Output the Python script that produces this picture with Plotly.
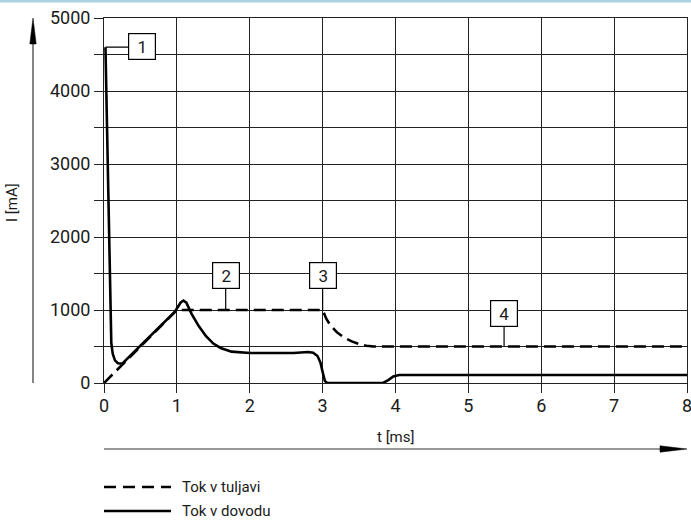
import plotly.graph_objects as go

# ---- data ----
t_coil = [0.0, 1.0, 3.0, 3.05, 3.1, 3.2, 3.3, 3.4, 3.5, 3.6, 3.7, 8.0]
i_coil = [0, 1000, 1000, 880, 800, 690, 620, 570, 535, 510, 500, 500]

t_feed = [0.02, 0.05, 0.08, 0.09, 0.1, 0.12, 0.15, 0.19, 0.25, 0.97, 1.0, 1.05, 1.09,
          1.13, 1.2, 1.3, 1.4, 1.5, 1.6, 1.75, 2.0, 2.3, 2.6, 2.8, 2.87, 2.93, 2.97,
          3.0, 3.03, 3.06, 3.83, 3.9, 3.97, 4.05, 8.0]
i_feed = [4600, 3000, 1500, 900, 550, 400, 310, 270, 265, 975, 1020, 1100, 1130,
          1100, 950, 780, 640, 540, 480, 430, 410, 405, 410, 425, 415, 370, 280,
          150, 30, 0, 0, 40, 90, 110, 110]

x_ticks = [0, 1, 2, 3, 4, 5, 6, 7, 8]
y_ticks = [0, 500, 1000, 1500, 2000, 2500, 3000, 3500, 4000, 4500, 5000]
y_tick_text = ["0", "", "1000", "", "2000", "", "3000", "", "4000", "", "5000"]

labels = ["1", "2", "3", "4"]
label_x = [0.52, 1.67, 3.0, 5.49]
label_y = [4616, 1470, 1470, 952]

legend_names = ["Tok v tuljavi", "Tok v dovodu"]

FONT = "Roboto"
TXT = "#1a1a1a"

fig = go.Figure()
fig.add_trace(go.Scatter(x=t_coil, y=i_coil, mode="lines", showlegend=False,
                         line=dict(color="black", width=2.6, dash="12px,6px")))
fig.add_trace(go.Scatter(x=t_feed, y=i_feed, mode="lines", showlegend=False,
                         line=dict(color="black", width=2.6)))

shapes = []
# leader lines
shapes.append(dict(type="line", xref="x", yref="y", x0=0.02, x1=label_x[0], y0=4600, y1=4600,
                   line=dict(color="black", width=1.2)))
shapes.append(dict(type="line", xref="x", yref="y", x0=label_x[1], x1=label_x[1], y0=1000, y1=label_y[1],
                   line=dict(color="black", width=1.2)))
shapes.append(dict(type="line", xref="x", yref="y", x0=label_x[2], x1=label_x[2], y0=1000, y1=label_y[2],
                   line=dict(color="black", width=1.2)))
shapes.append(dict(type="line", xref="x", yref="y", x0=label_x[3], x1=label_x[3], y0=500, y1=label_y[3],
                   line=dict(color="black", width=1.2)))

# y arrow
ax_x = (33 - 104) / 583
shapes.append(dict(type="line", xref="paper", yref="paper", x0=ax_x, x1=ax_x, y0=0.0, y1=0.96,
                   line=dict(color="#333", width=1.2)))
shapes.append(dict(type="path", xref="paper", yref="paper", xsizemode="pixel", ysizemode="pixel",
                   xanchor=ax_x, yanchor=1.0, path="M 0,0 L -3.2,-26 L 3.2,-26 Z",
                   fillcolor="black", line=dict(color="black", width=0.5)))
# x arrow
ay_y = (383 - 449) / 365
shapes.append(dict(type="line", xref="paper", yref="paper", x0=0.0, x1=0.96, y0=ay_y, y1=ay_y,
                   line=dict(color="#333", width=1.2)))
shapes.append(dict(type="path", xref="paper", yref="paper", xsizemode="pixel", ysizemode="pixel",
                   xanchor=1.0, yanchor=ay_y, path="M 0,0 L -27,3.2 L -27,-3.2 Z",
                   fillcolor="black", line=dict(color="black", width=0.5)))
# top light-blue rule
shapes.append(dict(type="line", xref="paper", yref="paper", x0=-104 / 583, x1=(691 - 104) / 583,
                   y0=(383 - 1) / 365, y1=(383 - 1) / 365, line=dict(color="#a9d2e3", width=3)))
# legend samples
lg_y = [(383 - 487) / 365, (383 - 511) / 365]
shapes.append(dict(type="line", xref="paper", yref="paper", x0=0.0, x1=(171 - 104) / 583,
                   y0=lg_y[0], y1=lg_y[0], line=dict(color="black", width=2.6, dash="12px,7px")))
shapes.append(dict(type="line", xref="paper", yref="paper", x0=0.0, x1=(171 - 104) / 583,
                   y0=lg_y[1], y1=lg_y[1], line=dict(color="black", width=2.6)))

annotations = []
for lab, lx, ly in zip(labels, label_x, label_y):
    annotations.append(dict(x=lx, y=ly, xref="x", yref="y", text=lab, showarrow=False,
                            font=dict(family=FONT, size=17, color=TXT),
                            bgcolor="white", bordercolor="black", borderwidth=1.2,
                            borderpad=0, width=26, height=25))
for name, yy in zip(legend_names, lg_y):
    annotations.append(dict(x=(180 - 104) / 583, y=yy, xref="paper", yref="paper", text=name,
                            showarrow=False, xanchor="left", yanchor="middle",
                            font=dict(family=FONT, size=15, color=TXT)))
annotations.append(dict(x=(12 - 104) / 583, y=(383 - 203) / 365, xref="paper", yref="paper",
                        text="I [mA]", textangle=-90, showarrow=False,
                        xanchor="center", yanchor="middle",
                        font=dict(family=FONT, size=15, color=TXT)))
annotations.append(dict(x=4, y=(383 - 437) / 365, xref="x", yref="paper", text="t [ms]",
                        showarrow=False, xanchor="center", yanchor="middle",
                        font=dict(family=FONT, size=15, color=TXT)))

fig.update_layout(
    width=691, height=520,
    margin=dict(l=104, r=4, t=18, b=137),
    paper_bgcolor="white", plot_bgcolor="white",
    shapes=shapes, annotations=annotations,
    font=dict(family=FONT, color=TXT),
)
fig.update_xaxes(range=[0, 8], tickvals=x_ticks, ticktext=[str(v) for v in x_ticks],
                 showgrid=True, gridcolor="#222", gridwidth=1, zeroline=False,
                 showline=True, linecolor="#222", linewidth=1, mirror=True,
                 ticks="outside", ticklen=9, tickcolor="#222", automargin=False,
                 ticklabeloverflow="allow", ticklabelstandoff=-3,
                 tickfont=dict(family=FONT, size=18, color=TXT))
fig.update_yaxes(range=[0, 5000], tickvals=y_ticks, ticktext=y_tick_text,
                 showgrid=True, gridcolor="#222", gridwidth=1, zeroline=False,
                 showline=True, linecolor="#222", linewidth=1, mirror=True,
                 ticks="outside", ticklen=9, tickcolor="#222", automargin=False,
                 tickfont=dict(family=FONT, size=18, color=TXT))

fig.write_html("out.html", config={"displayModeBar": False},
               post_script="document.body.style.margin='0';document.body.style.overflow='hidden';")
